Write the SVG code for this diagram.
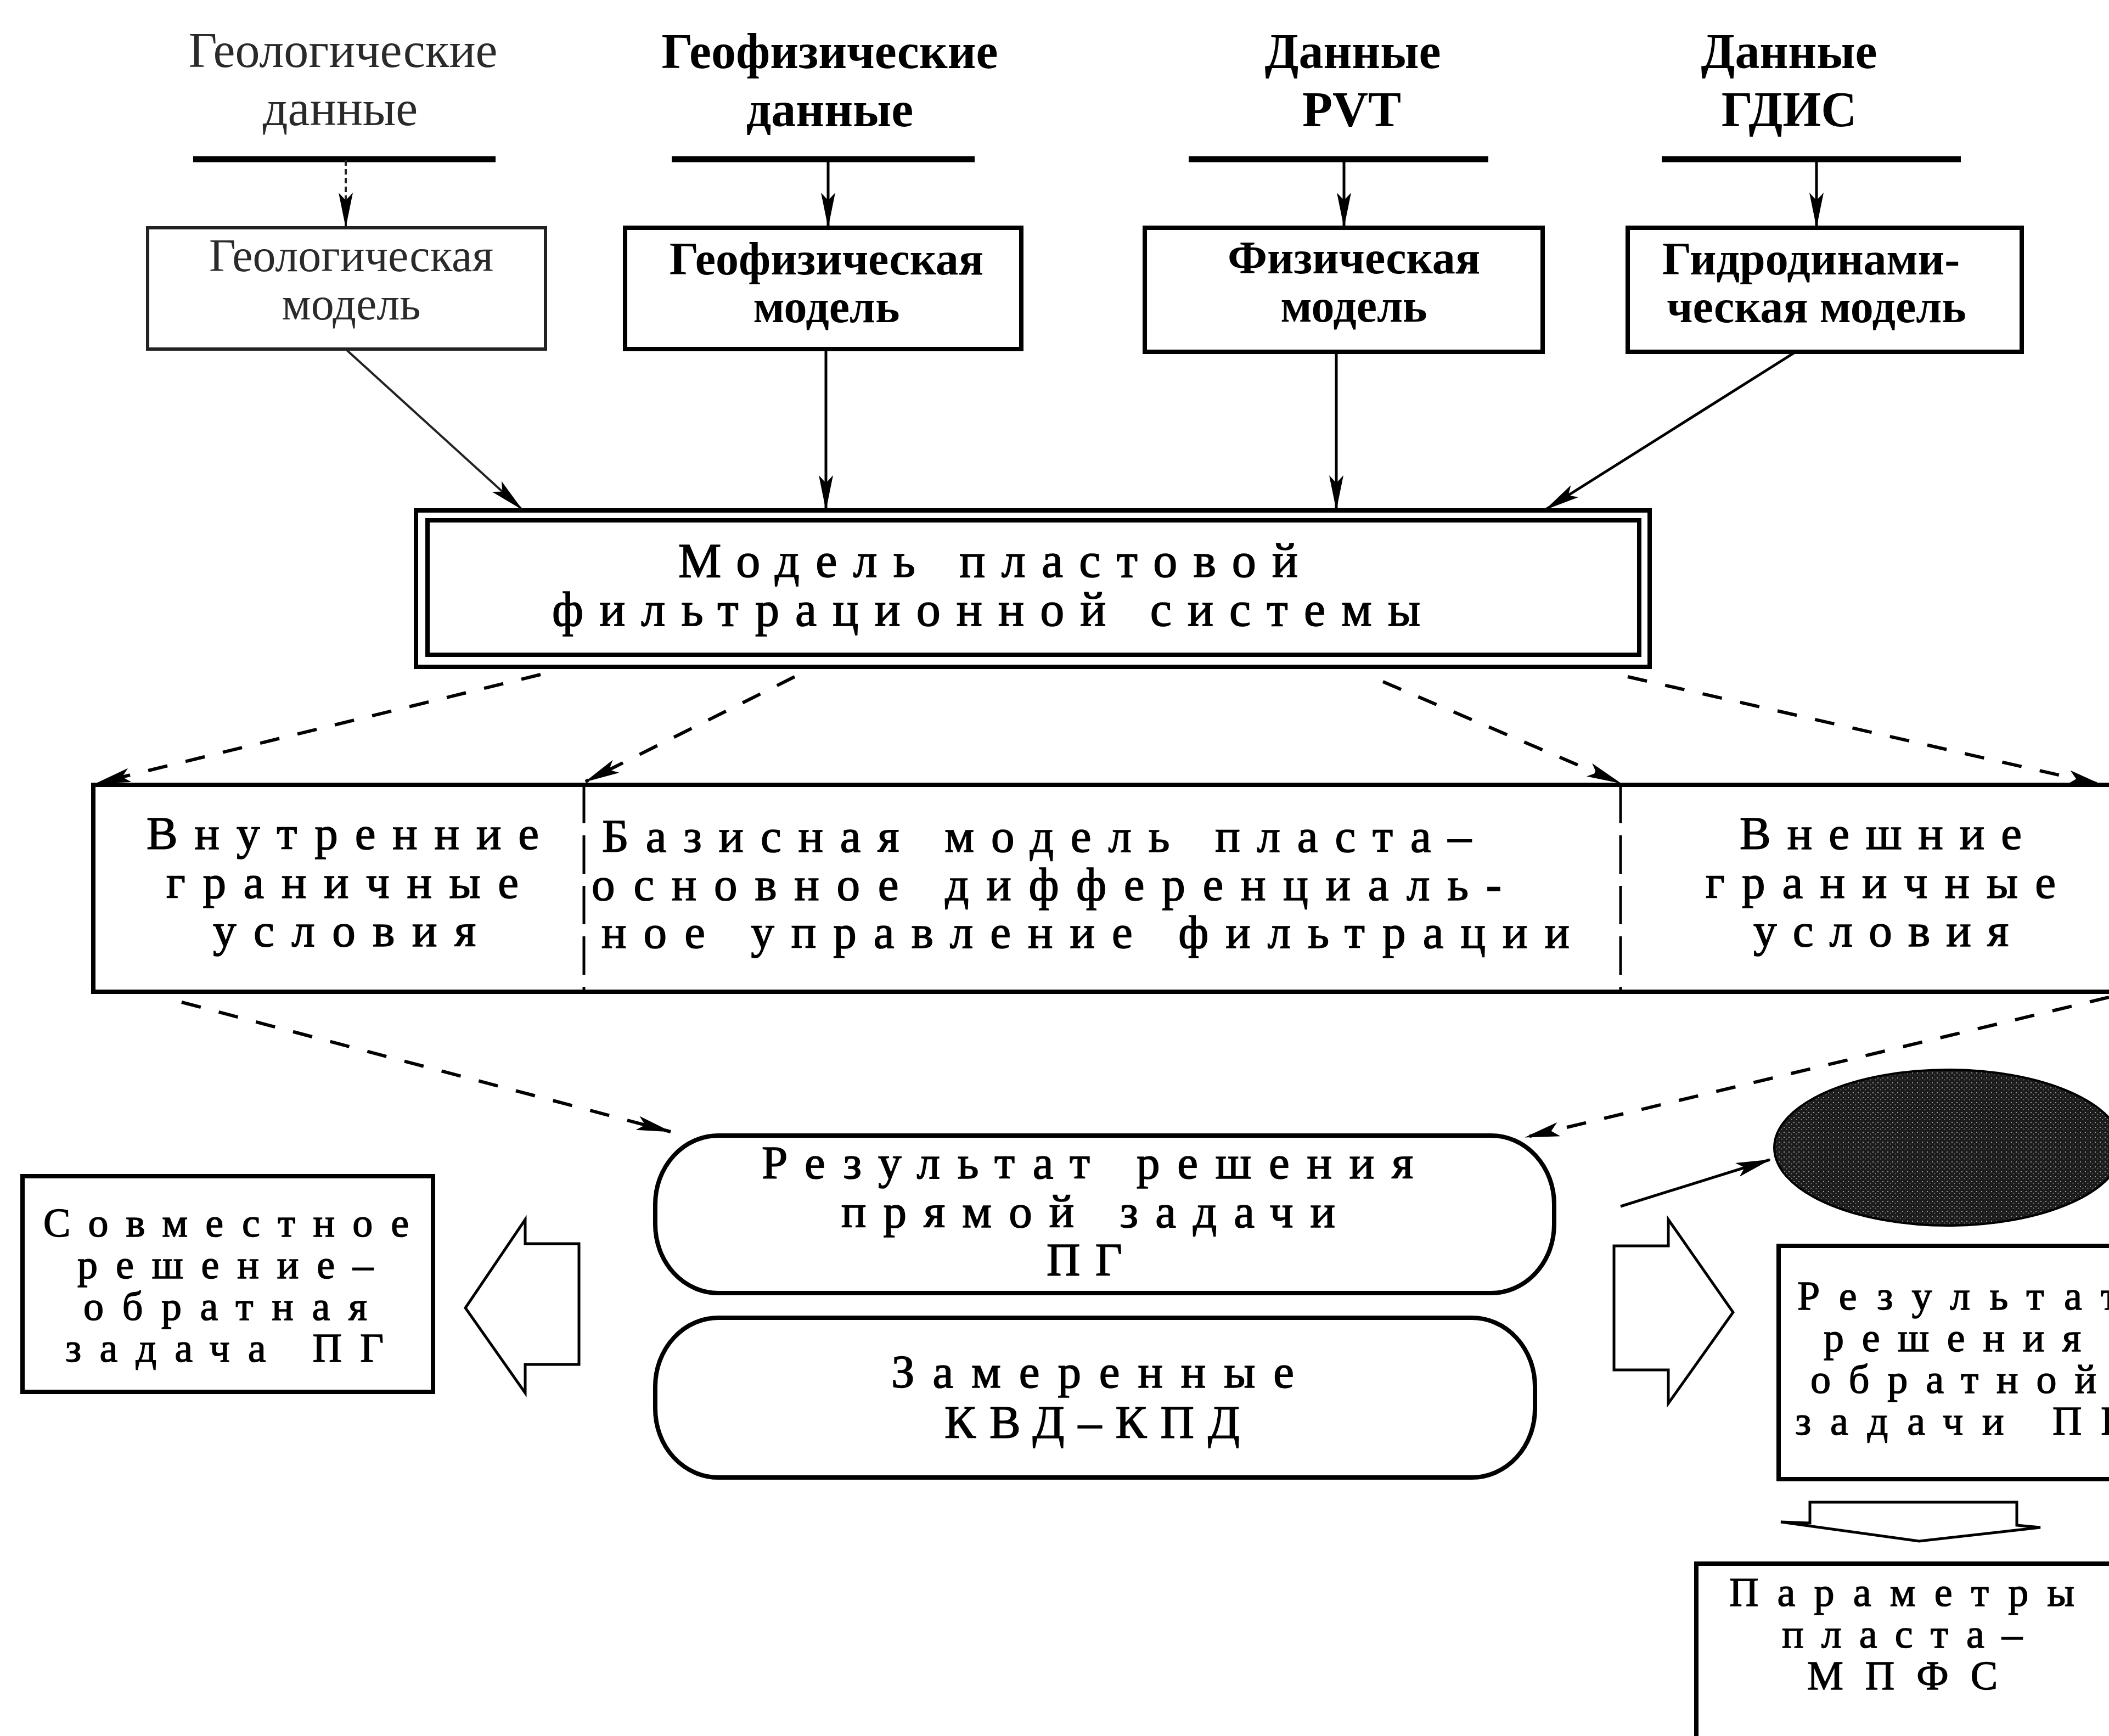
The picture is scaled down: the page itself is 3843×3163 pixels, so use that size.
<svg xmlns="http://www.w3.org/2000/svg" width="3843" height="3163" viewBox="0 0 3843 3163">
<defs>
<style>
.s{font-family:"Liberation Serif","DejaVu Serif",serif;fill:#000}
.b{font-weight:bold;font-size:90px;text-anchor:middle}
.g{font-size:90px;text-anchor:middle;fill:#2a2a2a}
.bb{font-weight:bold;font-size:84px;text-anchor:middle}
.gb{font-size:84px;text-anchor:middle;fill:#2a2a2a}
.w{font-size:88px;stroke:#000;stroke-width:1.6}
.m{font-size:85px;stroke:#000;stroke-width:1.6}
.n{font-size:74px;stroke:#000;stroke-width:1.5}
.box{fill:none;stroke:#000;stroke-width:8}
.gbox{fill:none;stroke:#222;stroke-width:6}
.bar{stroke:#000;stroke-width:11;fill:none}
.ln{stroke:#000;stroke-width:5;fill:none}
.dash{stroke:#000;stroke-width:6;fill:none;stroke-dasharray:36 34}
.div{stroke:#000;stroke-width:5;fill:none;stroke-dasharray:70 22}
.blk{fill:#fff;stroke:#000;stroke-width:5;stroke-linejoin:miter}
</style>
<marker id="ah" markerUnits="userSpaceOnUse" markerWidth="64" markerHeight="26" refX="62" refY="13" orient="auto"><path d="M0,0 L64,13 L0,26 L14,13 z" fill="#000"/></marker>
<pattern id="stip" width="9" height="9" patternUnits="userSpaceOnUse"><rect width="9" height="9" fill="#1c1c1c"/><circle cx="2" cy="2" r="1.1" fill="#bbb"/><circle cx="6.5" cy="5.5" r="0.9" fill="#888"/></pattern>
</defs>
<rect width="3843" height="3163" fill="#fff"/>

<g id="src-geol">
<text class="s g" x="625" y="122">Геологические</text>
<text class="s g" x="620" y="228">данные</text>
<line class="bar" x1="352" y1="290" x2="903" y2="290" stroke="#222" stroke-width="8"/>
</g>
<g id="src-geof">
<text class="s b" x="1512" y="124">Геофизические</text>
<text class="s b" x="1512" y="230">данные</text>
<line class="bar" x1="1224" y1="290" x2="1776" y2="290"/>
</g>
<g id="src-pvt">
<text class="s b" x="2465" y="124">Данные</text>
<text class="s b" x="2463" y="230">PVT</text>
<line class="bar" x1="2166" y1="290" x2="2712" y2="290"/>
</g>
<g id="src-gdis">
<text class="s b" x="3260" y="124">Данные</text>
<text class="s b" x="3260" y="230">ГДИС</text>
<line class="bar" x1="3028" y1="290" x2="3573" y2="290"/>
</g>

<g id="geol-model">
<rect class="gbox" x="269" y="415" width="725" height="221"/>
<text class="s gb" x="640" y="494">Геологическая</text>
<text class="s gb" x="640" y="582">модель</text>
</g>
<g id="geof-model">
<rect class="box" x="1139" y="415" width="722" height="221"/>
<text class="s bb" x="1506" y="500">Геофизическая</text>
<text class="s bb" x="1506" y="587">модель</text>
</g>
<g id="phys-model">
<rect class="box" x="2086" y="415" width="725" height="226"/>
<text class="s bb" x="2467" y="498">Физическая</text>
<text class="s bb" x="2467" y="586">модель</text>
</g>
<g id="hydro-model">
<rect class="box" x="2966" y="415" width="718" height="226"/>
<text class="s bb" x="3300" y="500">Гидродинами-</text>
<text class="s bb" x="3310" y="587">ческая модель</text>
</g>

<g id="mpfs-model">
<rect class="box" x="758" y="930" width="2248" height="285" stroke-width="7"/>
<rect class="box" x="779" y="948" width="2208" height="245" stroke-width="7"/>
<text class="s w" x="1236" y="1051" textLength="1129" lengthAdjust="spacing">Модель пластовой</text>
<text class="s w" x="1006" y="1140" textLength="1582" lengthAdjust="spacing">фильтрационной системы</text>
</g>

<g id="boundary-block">
<path class="box" d="M3900,1430 H170 V1807 H3900" stroke-width="7"/>
<line class="div" x1="1064" y1="1430" x2="1064" y2="1807"/>
<line class="div" x1="2953" y1="1430" x2="2953" y2="1807"/>
<text class="s m" x="267" y="1547" textLength="715" lengthAdjust="spacing">Внутренние</text>
<text class="s m" x="303" y="1636" textLength="642" lengthAdjust="spacing">граничные</text>
<text class="s m" x="388" y="1724" textLength="479" lengthAdjust="spacing">условия</text>
<text class="s m" x="1097" y="1552" textLength="1584" lengthAdjust="spacing">Базисная модель пласта–</text>
<text class="s m" x="1078" y="1640" textLength="1658" lengthAdjust="spacing">основное дифференциаль-</text>
<text class="s m" x="1096" y="1727" textLength="1764" lengthAdjust="spacing">ное управление фильтрации</text>
<text class="s m" x="3170" y="1547" textLength="514" lengthAdjust="spacing">Внешние</text>
<text class="s m" x="3108" y="1636" textLength="638" lengthAdjust="spacing">граничные</text>
<text class="s m" x="3195" y="1724" textLength="465" lengthAdjust="spacing">условия</text>
</g>

<g id="direct-result">
<rect class="box" x="1194" y="2069" width="1638" height="287" rx="115" ry="125"/>
<text class="s m" x="1388" y="2147" textLength="1187" lengthAdjust="spacing">Результат решения</text>
<text class="s m" x="1533" y="2236" textLength="900" lengthAdjust="spacing">прямой задачи</text>
<text class="s m" x="1907" y="2324" textLength="138" lengthAdjust="spacing">ПГ</text>
</g>
<g id="measured">
<rect class="box" x="1194" y="2401" width="1603" height="291" rx="115" ry="125"/>
<text class="s m" x="1624" y="2528" textLength="734" lengthAdjust="spacing">Замеренные</text>
<text class="s m" x="1721" y="2620" textLength="538" lengthAdjust="spacing">КВД–КПД</text>
</g>

<g id="joint-solution">
<rect class="box" x="41" y="2143" width="748" height="393"/>
<text class="s n" x="79" y="2253" textLength="666" lengthAdjust="spacing">Совместное</text>
<text class="s n" x="141" y="2329" textLength="539" lengthAdjust="spacing">решение–</text>
<text class="s n" x="152" y="2405" textLength="517" lengthAdjust="spacing">обратная</text>
<text class="s n" x="119" y="2481" textLength="580" lengthAdjust="spacing">задача ПГ</text>
</g>

<g id="ellipse-node">
<ellipse cx="3550" cy="2091" rx="317" ry="142" fill="url(#stip)" stroke="#000" stroke-width="4"/>
</g>

<g id="inverse-result">
<path class="box" d="M3900,2270 H3241 V2695 H3900"/>
<text class="s n" x="3275" y="2386" textLength="585" lengthAdjust="spacing">Результат</text>
<text class="s n" x="3323" y="2462" textLength="469" lengthAdjust="spacing">решения</text>
<text class="s n" x="3299" y="2538" textLength="521" lengthAdjust="spacing">обратной</text>
<text class="s n" x="3271" y="2614" textLength="600" lengthAdjust="spacing">задачи ПГ</text>
</g>

<g id="params">
<path class="box" d="M3900,2849 H3091 V3200"/>
<text class="s n" x="3151" y="2926" textLength="629" lengthAdjust="spacing">Параметры</text>
<text class="s n" x="3247" y="3002" textLength="438" lengthAdjust="spacing">пласта–</text>
<text class="s n" x="3293" y="3078" textLength="347" lengthAdjust="spacing">МПФС</text>
</g>

<g id="connectors">
<line x1="630" y1="292" x2="630" y2="413" stroke="#222" stroke-width="4" stroke-dasharray="10 6" marker-end="url(#ah)"/>
<line class="ln" x1="1509" y1="292" x2="1509" y2="413" marker-end="url(#ah)"/>
<line class="ln" x1="2449" y1="292" x2="2449" y2="413" marker-end="url(#ah)"/>
<line class="ln" x1="3310" y1="292" x2="3310" y2="413" marker-end="url(#ah)"/>
<line x1="632" y1="638" x2="951" y2="928" stroke="#222" stroke-width="4" marker-end="url(#ah)"/>
<line class="ln" x1="1505" y1="638" x2="1505" y2="928" marker-end="url(#ah)"/>
<line class="ln" x1="2435" y1="643" x2="2435" y2="928" marker-end="url(#ah)"/>
<line class="ln" x1="3269" y1="643" x2="2817" y2="928" marker-end="url(#ah)"/>
<line class="dash" x1="985" y1="1229" x2="176" y2="1427" marker-end="url(#ah)"/>
<line class="dash" x1="1448" y1="1233" x2="1067" y2="1424" marker-end="url(#ah)"/>
<line class="dash" x1="2520" y1="1242" x2="2953" y2="1427" marker-end="url(#ah)"/>
<line class="dash" x1="2966" y1="1233" x2="3830" y2="1430" marker-end="url(#ah)"/>
<line class="dash" x1="331" y1="1826" x2="1222" y2="2062" marker-end="url(#ah)"/>
<line class="dash" x1="3843" y1="1817" x2="2780" y2="2072" marker-end="url(#ah)"/>
<line class="ln" x1="2953" y1="2198" x2="3225" y2="2113" marker-end="url(#ah)"/>
<polygon class="blk" points="1055,2266 957,2266 957,2222 848,2383 957,2538 957,2486 1055,2486"/>
<polygon class="blk" points="2941,2270 3040,2270 3040,2222 3158,2391 3040,2557 3040,2496 2941,2496"/>
<polygon class="blk" points="3298,2737 3675,2737 3675,2779 3718,2783 3497,2808 3245,2773 3298,2775"/>
</g>
</svg>
